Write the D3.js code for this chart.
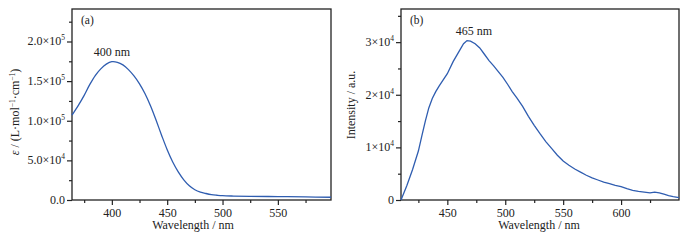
<!doctype html>
<html>
<head>
<script src="https://cdn.jsdelivr.net/npm/d3@7"></script>
<style>
  body { margin: 0; background: #fff; }
  text { font-family: "Liberation Serif", "DejaVu Serif", serif; fill: #222; }
</style>
</head>
<body>
<svg width="698" height="242"></svg>
<script>
// (a) absorption spectrum
var absWl  = [364, 370, 375, 380, 385, 390, 395, 400, 405, 410, 415, 420, 425, 430, 435, 440, 445, 450, 455, 460, 465, 470, 475, 480, 485, 490, 495, 500, 510, 525, 550, 575, 598];
var absVal = [107000, 120000, 132000, 145500, 157000, 165500, 171500, 174500, 173800, 170500, 164500, 156500, 146500, 134000, 118500, 100500, 81500, 63500, 48000, 35500, 25500, 18000, 13000, 10000, 8200, 6800, 6000, 5400, 5000, 4700, 4300, 3900, 3500];
// (b) emission spectrum
var emWl  = [410, 415, 420, 425, 428, 431, 434, 437, 440, 443, 446, 450, 455, 460, 464, 467, 470, 474, 478, 482, 486, 490, 494, 498, 502, 506, 510, 515, 520, 525, 530, 535, 540, 545, 550, 555, 560, 565, 570, 575, 580, 585, 590, 595, 600, 605, 610, 615, 620, 625, 629, 633, 637, 641, 645, 650];
var emVal = [0, 2700, 5800, 9300, 12200, 15000, 17500, 19300, 20600, 21700, 22700, 24000, 26300, 28200, 29700, 30300, 30200, 29700, 28900, 27700, 26500, 25500, 24400, 23300, 22000, 20600, 19400, 17800, 15900, 14200, 12600, 11100, 9800, 8500, 7400, 6600, 5900, 5300, 4700, 4200, 3800, 3400, 3100, 2800, 2550, 2150, 1850, 1650, 1500, 1350, 1500, 1350, 1100, 850, 650, 450];

var absXTicks = [400, 450, 500, 550];
var absXMinor = [375, 425, 475, 525, 575];
var absYTicks = [[0, "0.0", ""], [50000, "5.0×10", "4"], [100000, "1.0×10", "5"], [150000, "1.5×10", "5"], [200000, "2.0×10", "5"]];
var absYMinor = [25000, 75000, 125000, 175000, 225000];

var emXTicks = [450, 500, 550, 600];
var emXMinor = [425, 475, 525, 575, 625];
var emYTicks = [[0, "0", ""], [10000, "1×10", "4"], [20000, "2×10", "4"], [30000, "3×10", "4"]];
var emYMinor = [5000, 15000, 25000, 35000];

var svg = d3.select("svg");
var blue = "#2f5db0";

function panel(o) {
  var x = d3.scaleLinear().domain(o.xDomain).range([o.left, o.right]);
  var y = d3.scaleLinear().domain(o.yDomain).range([200, 9]);
  var g = svg.append("g");

  // bottom axis
  var xa = g.append("g").attr("transform", "translate(0,200)")
    .call(d3.axisBottom(x).tickValues(o.xTicks).tickSize(5).tickSizeOuter(0).tickPadding(3));
  g.append("g").attr("transform", "translate(0,200)")
    .call(d3.axisBottom(x).tickValues(o.xMinor).tickSize(3).tickSizeOuter(0).tickFormat(""));
  // left axis
  g.append("g").attr("transform", "translate(" + o.left + ",0)")
    .call(d3.axisLeft(y).tickValues(o.yTicks.map(d => d[0])).tickSize(5).tickSizeOuter(0).tickFormat(""));
  g.append("g").attr("transform", "translate(" + o.left + ",0)")
    .call(d3.axisLeft(y).tickValues(o.yMinor).tickSize(3).tickSizeOuter(0).tickFormat(""));

  g.selectAll(".domain").remove();
  g.selectAll(".tick line").attr("stroke", "#222").attr("stroke-width", 1.2);
  xa.selectAll(".tick text").style("font-family", "Liberation Serif").style("font-size", "12px").attr("fill", "#222");

  // y tick labels with superscripts
  o.yTicks.forEach(function (t) {
    var tx = g.append("text")
      .attr("x", o.left - 7).attr("y", y(t[0]) + 4)
      .attr("text-anchor", "end").style("font-size", "12px");
    tx.append("tspan").text(t[1]);
    if (t[2]) tx.append("tspan").attr("dy", -5).style("font-size", "7.5px").text(t[2]);
  });

  // frame
  g.append("rect").attr("x", o.left).attr("y", 9)
    .attr("width", o.right - o.left).attr("height", 191)
    .attr("fill", "none").attr("stroke", "#222").attr("stroke-width", 1.3);

  // curve
  var line = d3.line().x(d => x(d[0])).y(d => y(d[1])).curve(o.curve);
  g.append("path").datum(d3.zip(o.wl, o.val))
    .attr("d", line).attr("fill", "none")
    .attr("stroke", blue).attr("stroke-width", 1.3);

  // panel letter and peak label
  g.append("text").attr("x", o.left + 9).attr("y", 24).style("font-size", "11.5px").text(o.letter);
  g.append("text").attr("x", x(o.peak[0])).attr("y", y(o.peak[1]) - 6)
    .attr("text-anchor", "middle").style("font-size", "12px").text(o.peakLabel);

  // x title
  g.append("text").attr("x", o.xTitleX).attr("y", 229)
    .attr("text-anchor", "middle").style("font-size", "12px").text("Wavelength / nm");
  return g;
}

panel({
  xDomain: [364, 598], yDomain: [0, 241000], left: 72, right: 331,
  xTicks: absXTicks, xMinor: absXMinor, yTicks: absYTicks, yMinor: absYMinor,
  wl: absWl, val: absVal, curve: d3.curveCatmullRom, letter: "(a)",
  peak: [400, 174500], peakLabel: "400 nm", xTitleX: 193
});
panel({
  xDomain: [410, 650], yDomain: [0, 36300], left: 401, right: 679,
  xTicks: emXTicks, xMinor: emXMinor, yTicks: emYTicks, yMinor: emYMinor,
  wl: emWl, val: emVal, curve: d3.curveLinear, letter: "(b)",
  peak: [473, 30300], peakLabel: "465 nm", xTitleX: 539
});

// y titles
var ta = svg.append("text").attr("transform", "translate(19,112) rotate(-90)")
  .attr("text-anchor", "middle").style("font-size", "12px");
ta.append("tspan").style("font-style", "italic").text("ε");
ta.append("tspan").text(" / (L·mol");
ta.append("tspan").attr("dy", -4).style("font-size", "7.5px").text("−1");
ta.append("tspan").attr("dy", 4).text("·cm");
ta.append("tspan").attr("dy", -4).style("font-size", "7.5px").text("−1");
ta.append("tspan").attr("dy", 4).text(")");

svg.append("text").attr("transform", "translate(355,105) rotate(-90)")
  .attr("text-anchor", "middle").style("font-size", "12px").text("Intensity / a.u.");
</script>
</body>
</html>
